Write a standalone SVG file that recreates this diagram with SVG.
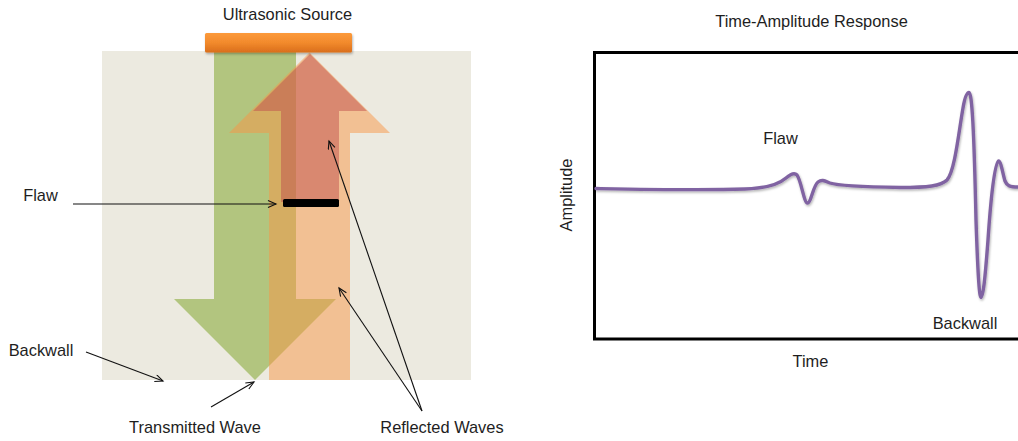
<svg xmlns="http://www.w3.org/2000/svg" width="1018" height="441" viewBox="0 0 1018 441">
  <defs>
    <style>
      .lbl { font-family: "Liberation Sans", Arial, sans-serif; font-size: 16.4px; fill: #1e1e1e; text-anchor: middle; }
      .lead { stroke: #111; stroke-width: 1.1; fill: none; marker-end: url(#open); }
      .wave { fill: none; stroke: #8064A2; stroke-width: 3.4; stroke-linecap: round; stroke-linejoin: round; }
    </style>
    <marker id="open" markerWidth="12" markerHeight="10" refX="9" refY="4" orient="auto" markerUnits="userSpaceOnUse">
      <path d="M1,0.5 L9,4 L1,7.5" fill="none" stroke="#111" stroke-width="1.1"/>
    </marker>
    <linearGradient id="srcGrad" x1="0" y1="0" x2="0" y2="1">
      <stop offset="0" stop-color="#FC9A3B"/>
      <stop offset="0.5" stop-color="#F28A2C"/>
      <stop offset="1" stop-color="#D96E1C"/>
    </linearGradient>
    <filter id="soft" x="-10%" y="-10%" width="120%" height="130%">
      <feDropShadow dx="0.8" dy="1.5" stdDeviation="1" flood-color="#000" flood-opacity="0.3"/>
    </filter>
  </defs>

  <!-- Test block -->
  <g id="block">
    <rect x="102" y="51" width="369" height="329" fill="#ECEAE0"/>
  </g>

  <!-- Transmitted wave (down arrow) -->
  <g id="transmitted-arrow">
    <polygon points="214,51 296,51 296,299 336,299 255,380 174,299 214,299" fill="#B2C57F"/>
  </g>

  <!-- Backwall reflection (up arrow) -->
  <g id="backwall-arrow">
    <polygon points="269,380 350,380 350,133 390,133 309.5,52.5 229,133 269,133" fill="#F79646" fill-opacity="0.5"/>
  </g>

  <!-- Flaw reflection (up arrow) -->
  <g id="flaw-arrow">
    <polygon points="281,202 339,202 339,111 367,111 310,54 253,111 281,111" fill="#C0504D" fill-opacity="0.5"/>
  </g>

  <!-- Flaw -->
  <g id="flaw">
    <rect x="283" y="199" width="56" height="8" rx="1.5" fill="#000"/>
  </g>

  <!-- Ultrasonic source -->
  <g id="source">
    <rect x="205" y="33" width="147" height="19.5" rx="1.5" fill="url(#srcGrad)" filter="url(#soft)"/>
    <text class="lbl" x="287.5" y="20">Ultrasonic Source</text>
  </g>

  <!-- Labels of the left drawing -->
  <g id="label-flaw"><text class="lbl" x="40.5" y="201">Flaw</text></g>
  <g id="label-backwall"><text class="lbl" x="41" y="356">Backwall</text></g>
  <g id="label-transmitted"><text class="lbl" x="195" y="433">Transmitted Wave</text></g>
  <g id="label-reflected"><text class="lbl" x="442" y="433">Reflected Waves</text></g>

  <!-- Leader lines -->
  <g id="connectors">
    <line class="lead" x1="73" y1="204" x2="276" y2="204"/>
    <line class="lead" x1="86" y1="352" x2="163" y2="381"/>
    <line class="lead" x1="211" y1="407" x2="254" y2="382"/>
    <line class="lead" x1="422" y1="411" x2="339" y2="288"/>
    <line class="lead" x1="422" y1="411" x2="329" y2="141"/>
  </g>

  <!-- Time-amplitude chart -->
  <g id="chart">
    <text class="lbl" x="811.5" y="27">Time-Amplitude Response</text>
    <rect x="594.5" y="52.5" width="440" height="286.5" fill="#fff" stroke="#000" stroke-width="3"/>
    <text class="lbl" x="810.5" y="367">Time</text>
    <text class="lbl" transform="translate(572 195) rotate(-90)" x="0" y="0">Amplitude</text>
    <path class="wave" filter="url(#soft)" d="M596,188.5 C650,189.5 700,190.5 745,189 C765,188.5 778,185 786,178 C790,174.5 794,172 797,175 C801,180 804,203 807.5,203 C811,203 813,186 818,182 C822,179 825,181 830,183 C840,186.5 870,187 900,187.5 C928,187.5 941,186 947,180 C955,171 959,130 963,108 C965,96 967,92.5 969,92.5 C972,92.5 974,130 976,220 C978,280 979.5,297.5 981,297.5 C983,297.5 985,280 988,240 C991,195 995,161 998.5,161 C1001,161 1003,175 1005,181 C1007,186 1010,187 1018,187"/>
    <text class="lbl" x="780.5" y="143.5">Flaw</text>
    <text class="lbl" x="965" y="328.5">Backwall</text>
  </g>
</svg>
